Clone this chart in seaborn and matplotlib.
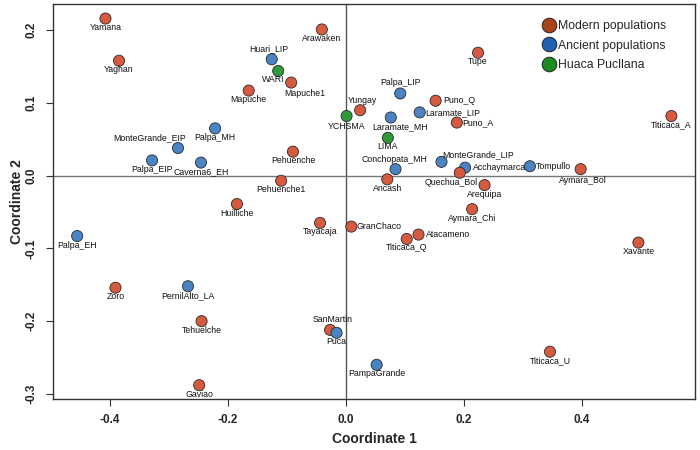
import matplotlib
matplotlib.use("Agg")
import matplotlib.pyplot as plt
import seaborn as sns
import pandas as pd
from matplotlib.lines import Line2D

# ---------------- data ----------------
names = ["Yamana", "Yaghan", "Mapuche", "Palpa_MH", "MonteGrande_EIP", "Palpa_EIP",
         "Caverna6_EH", "Huilliche", "Palpa_EH", "Zoro", "PernilAlto_LA", "Tehuelche",
         "Gaviao", "SanMartin", "Puca", "PampaGrande", "Titicaca_U", "Arawaken",
         "Huari_LIP", "WARI", "Mapuche1", "Yungay", "YCHSMA", "Palpa_LIP", "Puno_Q",
         "Laramate_LIP", "Laramate_MH", "Puno_A", "LIMA", "Pehuenche", "Tupe",
         "Titicaca_A", "Pehuenche1", "Conchopata_MH", "MonteGrande_LIP", "Acchaymarca",
         "Quechua_Bol", "Ancash", "Tayacaja", "GranChaco", "Atacameno", "Titicaca_Q",
         "Aymara_Chi", "Tompullo", "Aymara_Bol", "Arequipa", "Xavante"]
coord1 = [-0.408, -0.385, -0.165, -0.222, -0.285, -0.329,
          -0.246, -0.185, -0.456, -0.391, -0.268, -0.245,
          -0.249, -0.027, -0.016, 0.052, 0.346, -0.041,
          -0.126, -0.115, -0.093, 0.024, 0.001, 0.092, 0.152,
          0.125, 0.076, 0.188, 0.071, -0.090, 0.224,
          0.552, -0.110, 0.084, 0.162, 0.202,
          0.193, 0.070, -0.044, 0.009, 0.123, 0.103,
          0.214, 0.312, 0.398, 0.235, 0.496]
coord2 = [0.216, 0.158, 0.117, 0.065, 0.038, 0.021,
          0.018, -0.039, -0.083, -0.154, -0.152, -0.200,
          -0.288, -0.212, -0.216, -0.260, -0.242, 0.201,
          0.160, 0.144, 0.128, 0.090, 0.082, 0.113, 0.103,
          0.087, 0.080, 0.073, 0.052, 0.033, 0.169,
          0.082, -0.007, 0.009, 0.019, 0.011,
          0.004, -0.005, -0.065, -0.070, -0.081, -0.087,
          -0.046, 0.013, 0.009, -0.013, -0.092]
group = ["Modern", "Modern", "Modern", "Ancient", "Ancient", "Ancient",
         "Ancient", "Modern", "Ancient", "Modern", "Ancient", "Modern",
         "Modern", "Modern", "Ancient", "Ancient", "Modern", "Modern",
         "Ancient", "Huaca", "Modern", "Modern", "Huaca", "Ancient", "Modern",
         "Ancient", "Ancient", "Modern", "Huaca", "Modern", "Modern",
         "Modern", "Modern", "Ancient", "Ancient", "Ancient",
         "Modern", "Modern", "Modern", "Modern", "Modern", "Modern",
         "Modern", "Ancient", "Modern", "Modern", "Modern"]
legend_labels = ["Modern populations", "Ancient populations", "Huaca Pucllana"]
x_ticks = [-0.4, -0.2, 0.0, 0.2, 0.4]
y_ticks = [-0.3, -0.2, -0.1, 0.0, 0.1, 0.2]

# ---------------- layout (label placement, pixel offsets) ----------------
BELOW = (0, -9, "center")
label_place = {
    "MonteGrande_EIP": (-28, 10, "center"),
    "SanMartin": (3, 10, "center"),
    "Huari_LIP": (-3, 11, "center"),
    "WARI": (-5, -9, "center"),
    "Mapuche1": (14, -10.5, "center"),
    "Yungay": (2, 10, "center"),
    "Palpa_LIP": (0, 10.5, "center"),
    "Puno_Q": (7.5, 0, "left"),
    "Laramate_LIP": (6, 0, "left"),
    "Laramate_MH": (9, -9, "center"),
    "Puno_A": (5.5, 0, "left"),
    "Conchopata_MH": (-1, 10, "center"),
    "MonteGrande_LIP": (0.5, 7.5, "left"),
    "Acchaymarca": (7.5, 0, "left"),
    "Quechua_Bol": (-9, -10, "center"),
    "GranChaco": (5, 0, "left"),
    "Atacameno": (7.5, 0, "left"),
    "Tompullo": (5.5, 0, "left"),
    "Aymara_Bol": (2, -11, "center"),
    "YCHSMA": (0, -10, "center"),
}

sns.set_theme(style="white")
plt.rcParams["font.family"] = ["Liberation Sans", "DejaVu Sans"]

df = pd.DataFrame({"name": names, "c1": coord1, "c2": coord2, "group": group})
palette = {"Modern": "#D65A40", "Ancient": "#4A84C2", "Huaca": "#2E9A3A"}
legend_colors = ["#A8461A", "#1F62B4", "#1C8C1E"]

fig = plt.figure(figsize=(7, 4.5), dpi=100)
ax = fig.add_axes([53 / 700, 1 - 399 / 450, (695 - 53) / 700, (399 - 4) / 450])

ax.axvline(0, color="#555555", lw=1.0, zorder=1)
ax.axhline(0, color="#777777", lw=1.0, zorder=1)

sns.scatterplot(data=df, x="c1", y="c2", hue="group", palette=palette,
                s=64, edgecolor="#2a2a2a", linewidth=0.6, legend=False, ax=ax, zorder=3)

for n, x, y in zip(names, coord1, coord2):
    dx, dy, ha = label_place.get(n, BELOW)
    ax.annotate(n, (x, y), xytext=(dx, dy), textcoords="offset pixels",
                ha=ha, va="center", fontsize=6.3, color="#111111", zorder=4)

ax.set_xlim(-0.497, 0.592)
ax.set_ylim(-0.307, 0.236)
ax.set_xticks(x_ticks)
ax.set_yticks(y_ticks)
ax.set_xticklabels([f"{v:.1f}" for v in x_ticks], fontweight="bold", fontsize=8.5)
ax.set_yticklabels([f"{v:.1f}" for v in y_ticks], fontweight="bold", fontsize=8.5,
                   rotation=90, va="center")
ax.tick_params(axis="both", direction="out", length=5, width=0.8, color="#333333",
               bottom=True, left=True, pad=6)
ax.set_xlabel("Coordinate 1", fontweight="bold", fontsize=10, labelpad=4)
ax.set_ylabel("Coordinate 2", fontweight="bold", fontsize=10, labelpad=1)
for sp in ax.spines.values():
    sp.set_color("#333333")
    sp.set_linewidth(1.0)

handles = [Line2D([0], [0], marker="o", linestyle="none", markersize=10.5,
                  markerfacecolor=c, markeredgecolor="#222222", markeredgewidth=0.7)
           for c in legend_colors]
ax.legend(handles, legend_labels, loc="upper left", bbox_to_anchor=(0.755, 0.972),
          frameon=False, fontsize=8.8, handletextpad=0.3, labelspacing=0.62,
          borderaxespad=0, handlelength=1.0)

fig.savefig("out.png", dpi=100)
